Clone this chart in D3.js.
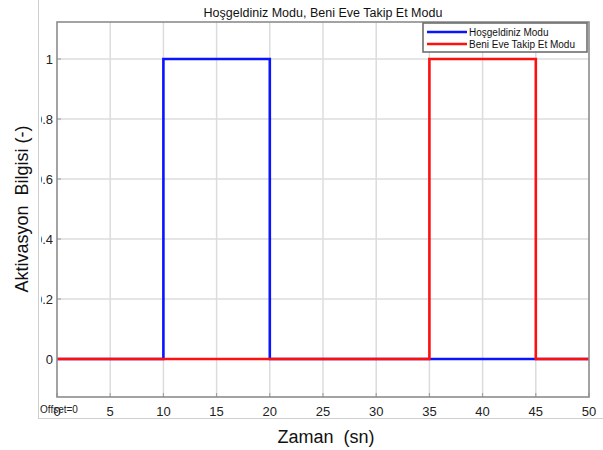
<!DOCTYPE html>
<html>
<head>
<meta charset="utf-8">
<script src="https://cdn.jsdelivr.net/npm/d3@7"></script>
<style>
  body { margin: 0; background: #fff; }
  svg { font-family: "Liberation Sans", Arial, sans-serif; }
</style>
</head>
<body>
<svg id="chart" width="603" height="450"></svg>
<script>
// step signals (value holds until next time point)
const hosTimes = [0, 10, 20, 50];
const hosValues = [0, 1, 0, 0];
const beniTimes = [0, 35, 45, 50];
const beniValues = [0, 1, 0, 0];

const xTicks = [0, 5, 10, 15, 20, 25, 30, 35, 40, 45, 50];
const yTicks = [0, 0.2, 0.4, 0.6, 0.8, 1];
const seriesNames = ["Hoşgeldiniz Modu", "Beni Eve Takip Et Modu"];
const seriesColors = ["#0a14ff", "#ff1010"];

const svg = d3.select("#chart");
const plotLeft = 57, plotRight = 589, plotTop = 22, plotBottom = 397;

const x = d3.scaleLinear().domain([0, 50]).range([plotLeft, plotRight]);
const y = d3.scaleLinear().domain([-0.125, 1.125]).range([plotBottom - 0.5, plotTop - 0.5]);

// outer frame lines of the figure
svg.append("line").attr("x1", 38.5).attr("x2", 38.5).attr("y1", 0).attr("y2", 418.5)
  .attr("stroke", "#cfcfcf").attr("stroke-width", 1);
svg.append("line").attr("x1", 38).attr("x2", 603).attr("y1", 418.5).attr("y2", 418.5)
  .attr("stroke", "#cfcfcf").attr("stroke-width", 1);

// grid
const grid = svg.append("g");
grid.selectAll(".gx").data(xTicks.slice(1, -1)).enter().append("line")
  .attr("x1", d => x(d)).attr("x2", d => x(d)).attr("y1", plotTop).attr("y2", plotBottom)
  .attr("stroke", "#dcdcdc").attr("stroke-width", 1.5);
grid.selectAll(".gy").data(yTicks).enter().append("line")
  .attr("x1", plotLeft).attr("x2", plotRight).attr("y1", d => y(d)).attr("y2", d => y(d))
  .attr("stroke", "#dcdcdc").attr("stroke-width", 1.5);

// ticks inward
const tickG = svg.append("g").attr("stroke", "#9a9a9a").attr("stroke-width", 1);
tickG.selectAll(".tb").data(xTicks).enter().append("line")
  .attr("x1", d => x(d)).attr("x2", d => x(d)).attr("y1", plotBottom).attr("y2", plotBottom - 4);
tickG.selectAll(".tl").data(yTicks).enter().append("line")
  .attr("x1", plotLeft).attr("x2", plotLeft + 4).attr("y1", d => y(d)).attr("y2", d => y(d));

// series
const line = d3.line().x(d => x(d[0])).y(d => y(d[1])).curve(d3.curveStepAfter);
const hosData = hosTimes.map((t, i) => [t, hosValues[i]]);
const beniData = beniTimes.map((t, i) => [t, beniValues[i]]);
[hosData, beniData].forEach((data, i) => {
  svg.append("path").datum(data).attr("d", line)
    .attr("fill", "none").attr("stroke", seriesColors[i]).attr("stroke-width", 2.6);
});

// axes box
svg.append("rect").attr("x", plotLeft).attr("y", plotTop)
  .attr("width", plotRight - plotLeft).attr("height", plotBottom - plotTop)
  .attr("fill", "none").attr("stroke", "#8c8c8c").attr("stroke-width", 1.6);

// tick labels
svg.append("g").selectAll("text").data(xTicks).enter().append("text")
  .attr("x", d => x(d)).attr("y", 416).attr("text-anchor", "middle")
  .attr("font-size", 13).attr("fill", "#222").text(d => d);

svg.append("clipPath").attr("id", "yclip").append("rect")
  .attr("x", 41).attr("y", 0).attr("width", 60).attr("height", 450);
svg.append("g").attr("clip-path", "url(#yclip)").selectAll("text").data(yTicks).enter().append("text")
  .attr("x", 53).attr("y", d => y(d) + 4.5).attr("text-anchor", "end")
  .attr("font-size", 13).attr("fill", "#222").text(d => d3.format("")(d));

svg.append("text").attr("x", 40).attr("y", 413).attr("font-size", 10).attr("fill", "#222").text("Offset=0");

// titles
svg.append("text").attr("x", 323).attr("y", 17).attr("text-anchor", "middle")
  .attr("font-size", 12.5).attr("fill", "#111").text("Hoşgeldiniz Modu, Beni Eve Takip Et Modu");
svg.append("text").attr("x", 326).attr("y", 443).attr("text-anchor", "middle")
  .attr("font-size", 18).attr("fill", "#111").attr("xml:space", "preserve").text("Zaman  (sn)");
svg.append("text").attr("transform", "translate(28,209) rotate(-90)").attr("text-anchor", "middle")
  .attr("font-size", 18).attr("fill", "#111").attr("xml:space", "preserve").text("Aktivasyon  Bilgisi (-)");

// legend
const lg = svg.append("g");
lg.append("rect").attr("x", 423).attr("y", 23).attr("width", 164).attr("height", 29)
  .attr("fill", "#fff").attr("stroke", "#6e6e6e").attr("stroke-width", 1.6);
seriesNames.forEach((name, i) => {
  const ly = 32 + i * 12;
  lg.append("line").attr("x1", 427).attr("x2", 467).attr("y1", ly).attr("y2", ly)
    .attr("stroke", seriesColors[i]).attr("stroke-width", 2.6);
  lg.append("text").attr("x", 469).attr("y", ly + 3.5).attr("font-size", 10).attr("fill", "#111").text(name);
});
</script>
</body>
</html>
